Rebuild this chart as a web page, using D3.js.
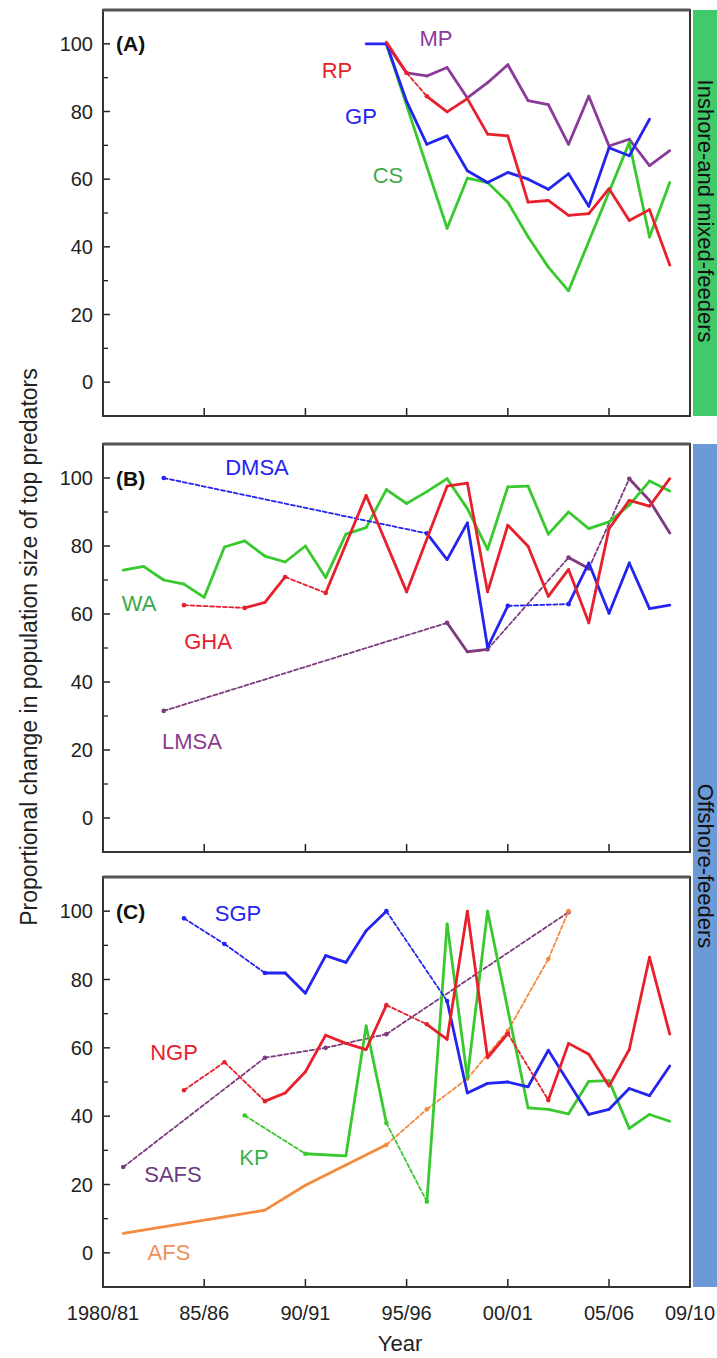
<!DOCTYPE html>
<html>
<head>
<meta charset="utf-8">
<script src="https://cdn.jsdelivr.net/npm/d3@7"></script>
<style>
  body { margin: 0; background: #fff; }
  svg { display: block; font-family: "Liberation Sans", Arial, sans-serif; }
</style>
</head>
<body>
<svg id="chart" width="717" height="1358"></svg>
<script>
// x tick labels (seasons)
var tickYears = [1980, 1985, 1990, 1995, 2000, 2005, 2009];
var tickLabels = ["1980/81", "85/86", "90/91", "95/96", "00/01", "05/06", "09/10"];
var yMajor = [0, 20, 40, 60, 80, 100];
var yMinor = [10, 30, 50, 70, 90];

// (A) inshore and mixed feeders  [year, value]
var GP = [[1993,100],[1994,100],[1995,83],[1996,70.3],[1997,72.8],[1998,62.5],[1999,59],[2000,62],[2001,60],[2002,57],[2003,61.6],[2004,52],[2005,69.3],[2006,66.9],[2007,77.7]];
var RP = [[1994,100.5],[1995,91.4],[1996,84.5],[1997,79.9],[1998,83.8],[1999,73.3],[2000,72.8],[2001,53.2],[2002,53.7],[2003,49.3],[2004,49.8],[2005,57.2],[2006,47.8],[2007,51],[2008,34.6]];
var MP = [[1994,100],[1995,91.4],[1996,90.5],[1997,93],[1998,84],[1999,88.5],[2000,93.8],[2001,83.2],[2002,82],[2003,70.3],[2004,84.5],[2005,69.8],[2006,71.8],[2007,64],[2008,68.4]];
var CS = [[1994,100],[1997,45.5],[1998,60.3],[1999,59],[2000,53.2],[2001,43],[2002,34],[2003,27],[2006,70.8],[2007,42.9],[2008,59]];

// (B) offshore feeders
var WA = [[1981,72.9],[1982,74],[1983,70],[1984,68.8],[1985,64.9],[1986,79.7],[1987,81.5],[1988,77],[1989,75.3],[1990,80],[1991,70.7],[1992,83.5],[1993,85.4],[1994,96.6],[1995,92.5],[1996,96],[1997,99.8],[1998,91],[1999,79],[2000,97.4],[2001,97.6],[2002,83.5],[2003,90],[2004,85.1],[2005,87.1],[2006,92],[2007,99.1],[2008,96.2]];
var GHA = [[1984,62.6],[1987,61.8],[1988,63.4],[1989,70.9],[1991,66.2],[1993,94.9],[1995,66.5],[1997,97.6],[1998,98.5],[1999,66.5],[2000,86.1],[2001,79.9],[2002,65.2],[2003,73.1],[2004,57.4],[2005,85.1],[2006,93.4],[2007,91.7],[2008,99.8]];
var DMSA = [[1983,100],[1996,83.7],[1997,76],[1998,86.8],[1999,50.2],[2000,62.4],[2003,62.9],[2004,75],[2005,60.2],[2006,75],[2007,61.6],[2008,62.6]];
var LMSA = [[1983,31.5],[1997,57.4],[1998,48.9],[1999,49.6],[2003,76.6],[2004,73.4],[2006,99.8],[2007,93.4],[2008,83.8]];

// (C) offshore feeders
var SGP = [[1984,97.9],[1986,90.4],[1988,81.9],[1989,81.9],[1990,76],[1991,87],[1992,85],[1993,94.3],[1994,100],[1997,73.7],[1998,46.8],[1999,49.6],[2000,50],[2001,48.6],[2002,59.3],[2004,40.5],[2005,42],[2006,48.1],[2007,46],[2008,54.7]];
var NGP = [[1984,47.6],[1986,55.8],[1988,44.4],[1989,46.8],[1990,53],[1991,63.7],[1992,61.3],[1993,59.5],[1994,72.5],[1996,66.9],[1997,62.5],[1998,100],[1999,57.1],[2000,64.2],[2002,44.7],[2003,61.3],[2004,58.1],[2005,48.8],[2006,59.5],[2007,86.5],[2008,64]];
var KP = [[1987,40.2],[1990,29],[1992,28.4],[1993,66.4],[1994,38],[1996,15],[1997,96.3],[1998,51.2],[1999,100],[2001,42.4],[2002,42],[2003,40.7],[2004,50.2],[2005,50.4],[2006,36.4],[2007,40.5],[2008,38.5]];
var SAFS = [[1981,25.1],[1988,57.1],[1991,60],[1994,64],[2003,99.7]];
var AFS = [[1981,5.7],[1986,10.5],[1988,12.5],[1990,19.8],[1992,25.7],[1994,31.6],[1996,42],[1998,51],[2000,65],[2002,86],[2003,100]];

// segments starting at these years are drawn dashed
var dashFrom = {
  RP: [1995],
  GHA: [1984, 1989],
  DMSA: [1983, 2000],
  LMSA: [1983, 1999, 2004],
  SGP: [1984, 1986, 1994],
  NGP: [1984, 1986, 1994, 2000],
  KP: [1987, 1994],
  SAFS: [1981, 1988, 1991, 1994],
  AFS: [1994, 1996, 1998, 2000, 2002]
};

var col = {
  blue: "#2424f0", red: "#e8202c", green: "#38c92e",
  purple: "#8a3a98", plum: "#7d3a7e", orange: "#f48a40"
};

var panels = [
  { tag: "(A)", top: 10, bottom: 416, axis: false,
    series: [
      { name: "MP", data: MP, c: col.purple, lx: 436, ly: 38 },
      { name: "CS", data: CS, c: col.green, lx: 388, ly: 175, lc: "#3faa4a" },
      { name: "GP", data: GP, c: col.blue, lx: 361, ly: 116 },
      { name: "RP", data: RP, c: col.red, lx: 337, ly: 70 }
    ] },
  { tag: "(B)", top: 444, bottom: 852, axis: false,
    series: [
      { name: "LMSA", data: LMSA, c: col.plum, lx: 192, ly: 741, lc: "#8d3a8e" },
      { name: "WA", data: WA, c: col.green, lx: 139, ly: 603, lc: "#3aa84a" },
      { name: "DMSA", data: DMSA, c: col.blue, lx: 257, ly: 467 },
      { name: "GHA", data: GHA, c: col.red, lx: 208, ly: 641 }
    ] },
  { tag: "(C)", top: 877, bottom: 1287, axis: true,
    series: [
      { name: "SAFS", data: SAFS, c: col.plum, lx: 173, ly: 1174, lc: "#6e3a82" },
      { name: "AFS", data: AFS, c: col.orange, lx: 169, ly: 1252, lc: "#f0905a" },
      { name: "KP", data: KP, c: col.green, lx: 254, ly: 1157, lc: "#3ab04a" },
      { name: "SGP", data: SGP, c: col.blue, lx: 238, ly: 913 },
      { name: "NGP", data: NGP, c: col.red, lx: 174, ly: 1052 }
    ] }
];

var svg = d3.select("#chart");
var left = 103, right = 690;
var x = d3.scaleLinear().domain([1980, 2009]).range([left, right]);

// side bands
svg.append("rect").attr("x", 693).attr("y", 10).attr("width", 24).attr("height", 406).attr("fill", "#41c96a");
svg.append("rect").attr("x", 693).attr("y", 444).attr("width", 24).attr("height", 843).attr("fill", "#6c9ad6");
svg.append("text").attr("transform", "translate(705,211) rotate(90)")
  .attr("text-anchor", "middle").attr("dominant-baseline", "central")
  .attr("font-size", 22).attr("fill", "#111").text("Inshore-and mixed-feeders");
svg.append("text").attr("transform", "translate(705,866) rotate(90)")
  .attr("text-anchor", "middle").attr("dominant-baseline", "central")
  .attr("font-size", 22).attr("fill", "#111").text("Offshore-feeders");

panels.forEach(function(p) {
  var y = d3.scaleLinear().domain([-10, 110]).range([p.bottom, p.top]);
  var g = svg.append("g");

  // y ticks inside
  g.selectAll(".ymaj").data(yMajor).enter().append("line")
    .attr("x1", left).attr("x2", left + 7)
    .attr("y1", function(d) { return y(d); }).attr("y2", function(d) { return y(d); })
    .attr("stroke", "#222").attr("stroke-width", 1.5);
  g.selectAll(".ymin").data(yMinor).enter().append("line")
    .attr("x1", left).attr("x2", left + 5)
    .attr("y1", function(d) { return y(d); }).attr("y2", function(d) { return y(d); })
    .attr("stroke", "#222").attr("stroke-width", 1.3);
  g.selectAll(".ylab").data(yMajor).enter().append("text")
    .attr("x", 93).attr("y", function(d) { return y(d); })
    .attr("text-anchor", "end").attr("dominant-baseline", "central")
    .attr("font-size", 20).attr("fill", "#222").text(function(d) { return d; });

  // x ticks inside, from bottom
  g.selectAll(".xt").data(tickYears.slice(1, 6)).enter().append("line")
    .attr("x1", function(d) { return x(d); }).attr("x2", function(d) { return x(d); })
    .attr("y1", p.bottom).attr("y2", p.bottom - 8)
    .attr("stroke", "#222").attr("stroke-width", 1.5);

  if (p.axis) {
    g.selectAll(".xl").data(tickYears).enter().append("text")
      .attr("x", function(d) { return x(d); }).attr("y", p.bottom + 33)
      .attr("text-anchor", "middle").attr("font-size", 20).attr("fill", "#222")
      .text(function(d, i) { return tickLabels[i]; });
  }

  // series
  p.series.forEach(function(s) {
    var dashes = dashFrom[s.name] || [];
    var segs = d3.pairs(s.data).map(function(pr) {
      return { a: pr[0], b: pr[1], dash: dashes.indexOf(pr[0][0]) >= 0 };
    });
    g.selectAll(null).data(segs).enter().append("line")
      .attr("x1", function(d) { return x(d.a[0]); }).attr("y1", function(d) { return y(d.a[1]); })
      .attr("x2", function(d) { return x(d.b[0]); }).attr("y2", function(d) { return y(d.b[1]); })
      .attr("stroke", s.c)
      .attr("stroke-width", function(d) { return d.dash ? 1.8 : 2.8; })
      .attr("stroke-dasharray", function(d) { return d.dash ? "4,2.5" : null; })
      .attr("stroke-linecap", "round").attr("stroke-linejoin", "round");

    var dots = s.data.filter(function(pt, i) {
      var prev = i > 0 && segs[i - 1].dash;
      var next = i < segs.length && segs[i].dash;
      return prev || next;
    });
    g.selectAll(null).data(dots).enter().append("circle")
      .attr("cx", function(d) { return x(d[0]); }).attr("cy", function(d) { return y(d[1]); })
      .attr("r", 2.3).attr("fill", s.c);

    g.append("text").attr("x", s.lx).attr("y", s.ly)
      .attr("text-anchor", "middle").attr("dominant-baseline", "central")
      .attr("font-size", 22).attr("fill", s.lc || s.c).text(s.name);
  });

  // frame
  g.append("rect").attr("x", left).attr("y", p.top)
    .attr("width", right - left).attr("height", p.bottom - p.top)
    .attr("fill", "none").attr("stroke", "#333").attr("stroke-width", 2);
  g.append("line").attr("x1", left).attr("x2", right).attr("y1", p.top).attr("y2", p.top)
    .attr("stroke", "#555").attr("stroke-width", 3);

  g.append("text").attr("x", 116).attr("y", y(100))
    .attr("dominant-baseline", "central").attr("font-size", 21)
    .attr("font-weight", "bold").attr("fill", "#111").text(p.tag);
});

// axis titles
svg.append("text").attr("transform", "translate(29,647) rotate(-90)")
  .attr("text-anchor", "middle").attr("dominant-baseline", "central")
  .attr("font-size", 23).attr("fill", "#222")
  .text("Proportional change in population size of top predators");
svg.append("text").attr("x", 400).attr("y", 1343)
  .attr("text-anchor", "middle").attr("dominant-baseline", "central")
  .attr("font-size", 22).attr("fill", "#222").text("Year");
</script>
</body>
</html>
